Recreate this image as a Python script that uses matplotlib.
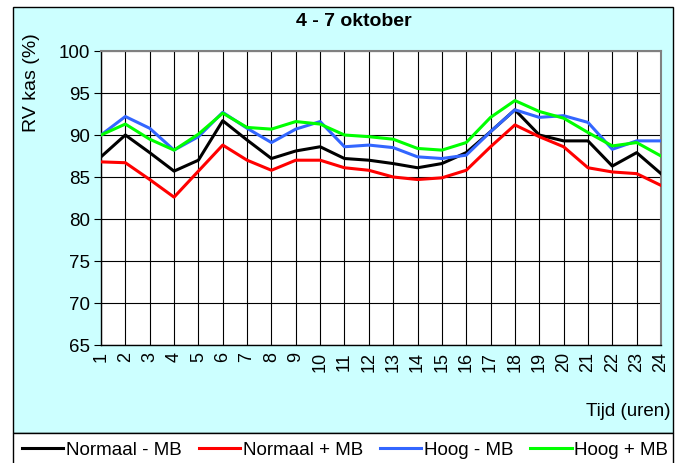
import matplotlib.pyplot as plt
from matplotlib.patches import Rectangle

plt.rcParams['font.family'] = ['Liberation Sans', 'DejaVu Sans']

# uren 1..24
hours = list(range(1, 25))

# RV kas (%) per behandeling
normaal_min_mb = [87.4, 90.0, 87.9, 85.7, 87.0, 91.7, 89.4, 87.2, 88.1, 88.6, 87.2, 87.0,
                  86.6, 86.1, 86.6, 87.9, 90.4, 93.0, 90.0, 89.3, 89.3, 86.3, 87.9, 85.4]
normaal_plus_mb = [86.8, 86.7, 84.7, 82.6, 85.7, 88.8, 87.0, 85.8, 87.0, 87.0, 86.1, 85.8,
                   85.0, 84.7, 84.9, 85.8, 88.6, 91.2, 89.8, 88.6, 86.1, 85.6, 85.4, 84.0]
hoog_min_mb = [90.0, 92.2, 90.8, 88.2, 89.8, 92.7, 90.8, 89.1, 90.7, 91.6, 88.6, 88.8,
               88.5, 87.4, 87.2, 87.6, 90.4, 93.0, 92.1, 92.3, 91.5, 88.3, 89.3, 89.3]
hoog_plus_mb = [90.0, 91.3, 89.5, 88.2, 90.1, 92.6, 90.9, 90.7, 91.6, 91.3, 90.0, 89.8,
                89.5, 88.4, 88.2, 89.1, 92.1, 94.1, 92.8, 92.0, 90.3, 88.7, 89.1, 87.5]

series = [
    ("Normaal - MB", normaal_min_mb, "black"),
    ("Normaal + MB", normaal_plus_mb, "#FF0000"),
    ("Hoog - MB", hoog_min_mb, "#3366FF"),
    ("Hoog + MB", hoog_plus_mb, "#00FF00"),
]

W, H = 684, 463
fig = plt.figure(figsize=(W / 100, H / 100), dpi=100)
fig.patch.set_facecolor("white")

# cyan chart area and white legend strip
fig.patches.append(Rectangle((13 / W, 1 - 433 / H), 660 / W, 426 / H, transform=fig.transFigure,
                             facecolor="#CCFFFF", edgecolor="black", linewidth=1, zorder=-5))
fig.patches.append(Rectangle((13 / W, -0.05), 660 / W, 0.05 + 1 - 433 / H, transform=fig.transFigure,
                             facecolor="white", edgecolor="black", linewidth=1, zorder=-5))

ax = fig.add_axes([101 / W, 1 - 345 / H, 560 / W, 294 / H])
ax.set_zorder(2)
ax.set_facecolor("white")

for label, vals, color in series:
    ax.plot(hours, vals, color=color, linewidth=2.2, label=label, zorder=3)

ax.set_xlim(1, 24)
ax.set_ylim(65, 100)
ax.set_xticks(hours)
ax.set_xticklabels([str(h) for h in hours], rotation=90, fontsize=13)
ax.set_yticks(range(65, 101, 5))
ax.tick_params(axis="y", labelsize=13.5, length=5, direction="out", pad=3)
ax.tick_params(axis="x", length=0, pad=5)
ax.grid(True, color="black", linewidth=0.8)
ax.set_axisbelow(True)
for side in ["top", "right"]:
    ax.spines[side].set_color("#808080")
    ax.spines[side].set_linewidth(1.5)
for side in ["left", "bottom"]:
    ax.spines[side].set_color("black")
    ax.spines[side].set_linewidth(1)

fig.text(354 / W, 1 - 22 / H, "4 - 7 oktober", ha="center", va="center",
         fontsize=14, fontweight="bold")
fig.text(31 / W, 1 - 83 / H, "RV kas (%)", ha="center", va="center", rotation=90, fontsize=14)
fig.text(670 / W, 1 - 411 / H, "Tijd (uren)", ha="right", va="center", fontsize=13.5)

fig.legend(loc="center left", bbox_to_anchor=(22 / W, 1 - 450 / H), ncol=4, frameon=False,
           fontsize=13.5, handlelength=2.2, handletextpad=0.15, columnspacing=0.9,
           borderaxespad=0, borderpad=0)

fig.savefig("out.png", dpi=100)
